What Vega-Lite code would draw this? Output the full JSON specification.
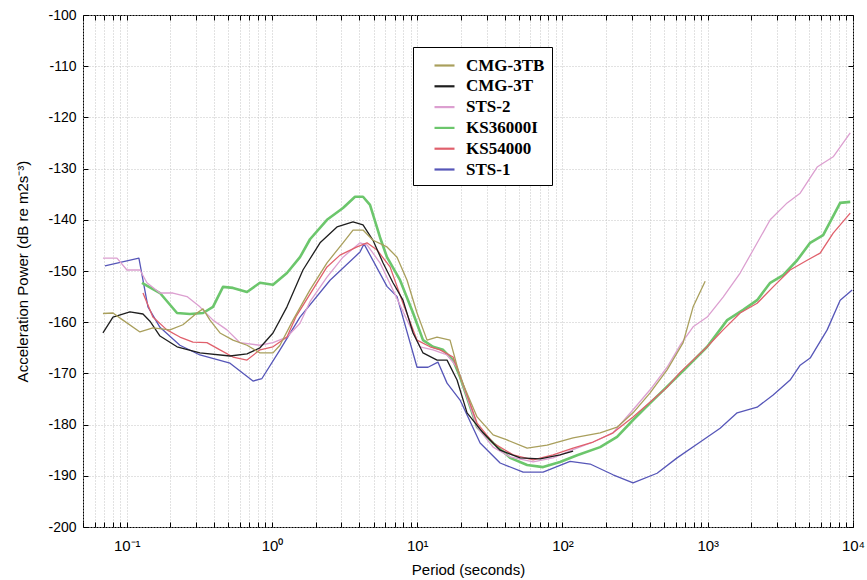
{
"$schema": "https://vega.github.io/schema/vega-lite/v6.json",
"width": 770, "height": 512,
"autosize": {"type": "none"},
"padding": {"left": 83, "top": 15, "right": 14, "bottom": 53},
"background": "white",
"config": {"view": {"stroke": "black", "strokeWidth": 1}, "font": "Liberation Sans", "axis": {"labelColor": "black", "titleColor": "black", "labelFont": "Liberation Sans", "titleFont": "Liberation Sans"}},
"datasets": {
"curves": [
{"s":"STS-1","p":0.0708,"v":-149.0},{"s":"STS-1","p":0.1213,"v":-147.5},{"s":"STS-1","p":0.140,"v":-157},{"s":"STS-1","p":0.1694,"v":-161},{"s":"STS-1","p":0.2323,"v":-164.5},{"s":"STS-1","p":0.319,"v":-166.4},{"s":"STS-1","p":0.514,"v":-168},{"s":"STS-1","p":0.74,"v":-171.5},{"s":"STS-1","p":0.853,"v":-171},{"s":"STS-1","p":1.135,"v":-165.4},{"s":"STS-1","p":1.559,"v":-159},{"s":"STS-1","p":2.51,"v":-151.8},{"s":"STS-1","p":4.036,"v":-146.3},{"s":"STS-1","p":4.3,"v":-144.7},{"s":"STS-1","p":6.19,"v":-153},{"s":"STS-1","p":7.26,"v":-155},{"s":"STS-1","p":9.97,"v":-168.8},{"s":"STS-1","p":11.86,"v":-168.8},{"s":"STS-1","p":13.9,"v":-167.8},{"s":"STS-1","p":16.04,"v":-171.9},{"s":"STS-1","p":19.72,"v":-175.2},{"s":"STS-1","p":27.1,"v":-183.6},{"s":"STS-1","p":37.2,"v":-187.5},{"s":"STS-1","p":53.6,"v":-189.3},{"s":"STS-1","p":73.5,"v":-189.3},{"s":"STS-1","p":112.8,"v":-187.2},{"s":"STS-1","p":155,"v":-187.7},{"s":"STS-1","p":222.9,"v":-189.8},{"s":"STS-1","p":306,"v":-191.4},{"s":"STS-1","p":448,"v":-189.5},{"s":"STS-1","p":615,"v":-186.5},{"s":"STS-1","p":887,"v":-183.4},{"s":"STS-1","p":1217,"v":-180.7},{"s":"STS-1","p":1594,"v":-177.7},{"s":"STS-1","p":2188,"v":-176.6},{"s":"STS-1","p":2820,"v":-174.2},{"s":"STS-1","p":3690,"v":-171.3},{"s":"STS-1","p":4327,"v":-168.4},{"s":"STS-1","p":5070,"v":-167},{"s":"STS-1","p":6640,"v":-161.5},{"s":"STS-1","p":8160,"v":-155.7},{"s":"STS-1","p":9870,"v":-153.7},

{"s":"KS36000I","p":0.1273,"v":-152.3},{"s":"KS36000I","p":0.1694,"v":-154.3},{"s":"KS36000I","p":0.222,"v":-158.2},{"s":"KS36000I","p":0.2723,"v":-158.4},{"s":"KS36000I","p":0.335,"v":-158.2},{"s":"KS36000I","p":0.3926,"v":-157},{"s":"KS36000I","p":0.46,"v":-153.1},{"s":"KS36000I","p":0.5387,"v":-153.3},{"s":"KS36000I","p":0.673,"v":-154.1},{"s":"KS36000I","p":0.826,"v":-152.3},{"s":"KS36000I","p":1.016,"v":-152.7},{"s":"KS36000I","p":1.268,"v":-150.4},{"s":"KS36000I","p":1.559,"v":-147.3},{"s":"KS36000I","p":1.827,"v":-143.8},{"s":"KS36000I","p":2.392,"v":-140},{"s":"KS36000I","p":3.083,"v":-137.7},{"s":"KS36000I","p":3.73,"v":-135.5},{"s":"KS36000I","p":4.233,"v":-135.5},{"s":"KS36000I","p":4.73,"v":-137.1},{"s":"KS36000I","p":5.54,"v":-143.4},{"s":"KS36000I","p":6.19,"v":-147.3},{"s":"KS36000I","p":7.62,"v":-151.8},{"s":"KS36000I","p":9.36,"v":-158.2},{"s":"KS36000I","p":10.96,"v":-163.5},{"s":"KS36000I","p":12.84,"v":-164.8},{"s":"KS36000I","p":15.06,"v":-165.4},{"s":"KS36000I","p":17.64,"v":-167.4},{"s":"KS36000I","p":19.72,"v":-170.7},{"s":"KS36000I","p":25.82,"v":-180.5},{"s":"KS36000I","p":33.3,"v":-183.6},{"s":"KS36000I","p":43.6,"v":-186.5},{"s":"KS36000I","p":57.1,"v":-187.9},{"s":"KS36000I","p":73.5,"v":-188.3},{"s":"KS36000I","p":96.2,"v":-187.3},{"s":"KS36000I","p":126.1,"v":-186},{"s":"KS36000I","p":181.6,"v":-184.4},{"s":"KS36000I","p":237.6,"v":-182.4},{"s":"KS36000I","p":306,"v":-179.1},{"s":"KS36000I","p":401,"v":-175.8},{"s":"KS36000I","p":677,"v":-169.5},{"s":"KS36000I","p":991,"v":-164.8},{"s":"KS36000I","p":1361,"v":-159.6},{"s":"KS36000I","p":1753,"v":-157.6},{"s":"KS36000I","p":2188,"v":-155.7},{"s":"KS36000I","p":2691,"v":-152.3},{"s":"KS36000I","p":3305,"v":-150.8},{"s":"KS36000I","p":4127,"v":-147.9},{"s":"KS36000I","p":5070,"v":-144.5},{"s":"KS36000I","p":6232,"v":-143},{"s":"KS36000I","p":8160,"v":-136.7},{"s":"KS36000I","p":9570,"v":-136.5},

{"s":"STS-2","p":0.0686,"v":-147.5},{"s":"STS-2","p":0.0857,"v":-147.5},{"s":"STS-2","p":0.1003,"v":-149.8},{"s":"STS-2","p":0.1233,"v":-149.8},{"s":"STS-2","p":0.1378,"v":-152.3},{"s":"STS-2","p":0.1694,"v":-154.3},{"s":"STS-2","p":0.208,"v":-154.3},{"s":"STS-2","p":0.26,"v":-155},{"s":"STS-2","p":0.319,"v":-157},{"s":"STS-2","p":0.3926,"v":-159.6},{"s":"STS-2","p":0.4898,"v":-161.5},{"s":"STS-2","p":0.6023,"v":-164},{"s":"STS-2","p":0.826,"v":-164.5},{"s":"STS-2","p":1.016,"v":-164},{"s":"STS-2","p":1.268,"v":-162.9},{"s":"STS-2","p":1.559,"v":-160.2},{"s":"STS-2","p":1.827,"v":-156},{"s":"STS-2","p":2.392,"v":-151.2},{"s":"STS-2","p":3.083,"v":-147.3},{"s":"STS-2","p":4.036,"v":-144.5},{"s":"STS-2","p":4.51,"v":-144.9},{"s":"STS-2","p":5.54,"v":-148.4},{"s":"STS-2","p":6.81,"v":-153.7},{"s":"STS-2","p":8.51,"v":-159.6},{"s":"STS-2","p":10.45,"v":-164.8},{"s":"STS-2","p":12.84,"v":-165.4},{"s":"STS-2","p":16.04,"v":-166.4},{"s":"STS-2","p":18.8,"v":-168.8},{"s":"STS-2","p":25.82,"v":-180.5},{"s":"STS-2","p":33.3,"v":-184.4},{"s":"STS-2","p":43.6,"v":-186.3},{"s":"STS-2","p":62.8,"v":-187.3},{"s":"STS-2","p":86.1,"v":-186.5},{"s":"STS-2","p":118.3,"v":-184.9},{"s":"STS-2","p":162.5,"v":-183.4},{"s":"STS-2","p":222.9,"v":-181.6},{"s":"STS-2","p":306,"v":-177.1},{"s":"STS-2","p":401,"v":-173.2},{"s":"STS-2","p":525,"v":-168.8},{"s":"STS-2","p":645,"v":-164.5},{"s":"STS-2","p":793,"v":-160.9},{"s":"STS-2","p":991,"v":-159},{"s":"STS-2","p":1276,"v":-155.1},{"s":"STS-2","p":1671,"v":-150.4},{"s":"STS-2","p":2054,"v":-145.9},{"s":"STS-2","p":2691,"v":-140},{"s":"STS-2","p":3521,"v":-136.7},{"s":"STS-2","p":4327,"v":-134.8},{"s":"STS-2","p":5665,"v":-129.7},{"s":"STS-2","p":7305,"v":-127.7},{"s":"STS-2","p":9570,"v":-123},

{"s":"KS54000","p":0.1294,"v":-154.3},{"s":"KS54000","p":0.1514,"v":-159},{"s":"KS54000","p":0.189,"v":-161.5},{"s":"KS54000","p":0.2323,"v":-162.9},{"s":"KS54000","p":0.2857,"v":-163.9},{"s":"KS54000","p":0.3566,"v":-164},{"s":"KS54000","p":0.4385,"v":-165.4},{"s":"KS54000","p":0.5387,"v":-166.8},{"s":"KS54000","p":0.673,"v":-167.4},{"s":"KS54000","p":0.826,"v":-165.4},{"s":"KS54000","p":1.016,"v":-164.8},{"s":"KS54000","p":1.268,"v":-162.9},{"s":"KS54000","p":1.47,"v":-158.8},{"s":"KS54000","p":1.827,"v":-154.5},{"s":"KS54000","p":2.392,"v":-149.2},{"s":"KS54000","p":2.94,"v":-146.9},{"s":"KS54000","p":3.85,"v":-145.3},{"s":"KS54000","p":4.51,"v":-144.5},{"s":"KS54000","p":5.29,"v":-145.9},{"s":"KS54000","p":6.5,"v":-149.2},{"s":"KS54000","p":7.98,"v":-156.3},{"s":"KS54000","p":9.97,"v":-163.5},{"s":"KS54000","p":12.25,"v":-164.8},{"s":"KS54000","p":14.35,"v":-165.4},{"s":"KS54000","p":17.64,"v":-166.8},{"s":"KS54000","p":19.72,"v":-170.5},{"s":"KS54000","p":25.82,"v":-179.7},{"s":"KS54000","p":33.3,"v":-183.6},{"s":"KS54000","p":45.7,"v":-185.9},{"s":"KS54000","p":62.8,"v":-186.9},{"s":"KS54000","p":86.1,"v":-185.9},{"s":"KS54000","p":118.3,"v":-184.6},{"s":"KS54000","p":162.5,"v":-183.4},{"s":"KS54000","p":222.9,"v":-181.6},{"s":"KS54000","p":306,"v":-178.5},{"s":"KS54000","p":525,"v":-172.7},{"s":"KS54000","p":645,"v":-169.8},{"s":"KS54000","p":991,"v":-164.8},{"s":"KS54000","p":1276,"v":-161.5},{"s":"KS54000","p":1671,"v":-158.2},{"s":"KS54000","p":2188,"v":-156.3},{"s":"KS54000","p":2820,"v":-153.1},{"s":"KS54000","p":3690,"v":-149.8},{"s":"KS54000","p":4834,"v":-147.9},{"s":"KS54000","p":5940,"v":-146.5},{"s":"KS54000","p":7305,"v":-142.6},{"s":"KS54000","p":9570,"v":-138.7},

{"s":"CMG-3T","p":0.0686,"v":-162.1},{"s":"CMG-3T","p":0.0804,"v":-159},{"s":"CMG-3T","p":0.1052,"v":-158},{"s":"CMG-3T","p":0.1294,"v":-158.4},{"s":"CMG-3T","p":0.1445,"v":-159.8},{"s":"CMG-3T","p":0.1694,"v":-162.7},{"s":"CMG-3T","p":0.222,"v":-164.8},{"s":"CMG-3T","p":0.319,"v":-166},{"s":"CMG-3T","p":0.514,"v":-166.6},{"s":"CMG-3T","p":0.673,"v":-166.2},{"s":"CMG-3T","p":0.826,"v":-165},{"s":"CMG-3T","p":1.016,"v":-162.1},{"s":"CMG-3T","p":1.268,"v":-157},{"s":"CMG-3T","p":1.634,"v":-149.8},{"s":"CMG-3T","p":2.142,"v":-144.5},{"s":"CMG-3T","p":2.803,"v":-141.4},{"s":"CMG-3T","p":3.612,"v":-140.4},{"s":"CMG-3T","p":4.233,"v":-141},{"s":"CMG-3T","p":4.96,"v":-144},{"s":"CMG-3T","p":5.81,"v":-148.4},{"s":"CMG-3T","p":6.81,"v":-152.3},{"s":"CMG-3T","p":7.98,"v":-155.7},{"s":"CMG-3T","p":9.36,"v":-162.1},{"s":"CMG-3T","p":10.96,"v":-166},{"s":"CMG-3T","p":13.69,"v":-167.4},{"s":"CMG-3T","p":16.04,"v":-167.4},{"s":"CMG-3T","p":18.8,"v":-171.3},{"s":"CMG-3T","p":22.03,"v":-177.7},{"s":"CMG-3T","p":28.4,"v":-181.6},{"s":"CMG-3T","p":37.2,"v":-185},{"s":"CMG-3T","p":51.1,"v":-186.5},{"s":"CMG-3T","p":70.1,"v":-186.7},{"s":"CMG-3T","p":96.2,"v":-185.9},{"s":"CMG-3T","p":118.3,"v":-185.2},

{"s":"CMG-3TB","p":0.0686,"v":-158.3},{"s":"CMG-3TB","p":0.0804,"v":-158.2},{"s":"CMG-3TB","p":0.0942,"v":-159.6},{"s":"CMG-3TB","p":0.1233,"v":-161.9},{"s":"CMG-3TB","p":0.1514,"v":-161.1},{"s":"CMG-3TB","p":0.1985,"v":-161.5},{"s":"CMG-3TB","p":0.2437,"v":-160.5},{"s":"CMG-3TB","p":0.3043,"v":-158.2},{"s":"CMG-3TB","p":0.335,"v":-157.4},{"s":"CMG-3TB","p":0.3742,"v":-159.6},{"s":"CMG-3TB","p":0.4385,"v":-162.1},{"s":"CMG-3TB","p":0.5387,"v":-163.5},{"s":"CMG-3TB","p":0.673,"v":-164.5},{"s":"CMG-3TB","p":0.826,"v":-166},{"s":"CMG-3TB","p":1.016,"v":-166},{"s":"CMG-3TB","p":1.135,"v":-164.5},{"s":"CMG-3TB","p":1.395,"v":-159.6},{"s":"CMG-3TB","p":1.827,"v":-153.7},{"s":"CMG-3TB","p":2.392,"v":-148.4},{"s":"CMG-3TB","p":3.083,"v":-144.5},{"s":"CMG-3TB","p":3.612,"v":-142},{"s":"CMG-3TB","p":4.233,"v":-142},{"s":"CMG-3TB","p":4.96,"v":-144},{"s":"CMG-3TB","p":6.19,"v":-145.3},{"s":"CMG-3TB","p":7.26,"v":-147.3},{"s":"CMG-3TB","p":8.51,"v":-151.8},{"s":"CMG-3TB","p":9.97,"v":-158.2},{"s":"CMG-3TB","p":11.68,"v":-163.5},{"s":"CMG-3TB","p":13.69,"v":-162.9},{"s":"CMG-3TB","p":16.82,"v":-163.5},{"s":"CMG-3TB","p":19.72,"v":-170.7},{"s":"CMG-3TB","p":25.82,"v":-178.5},{"s":"CMG-3TB","p":33.3,"v":-182},{"s":"CMG-3TB","p":41.5,"v":-183},{"s":"CMG-3TB","p":57.1,"v":-184.6},{"s":"CMG-3TB","p":78.3,"v":-184},{"s":"CMG-3TB","p":118.3,"v":-182.6},{"s":"CMG-3TB","p":181.6,"v":-181.6},{"s":"CMG-3TB","p":237.6,"v":-180.5},{"s":"CMG-3TB","p":306,"v":-177.7},{"s":"CMG-3TB","p":401,"v":-173.8},{"s":"CMG-3TB","p":525,"v":-169.3},{"s":"CMG-3TB","p":677,"v":-164},{"s":"CMG-3TB","p":793,"v":-157},{"s":"CMG-3TB","p":960,"v":-152}
]
},
"data": {"name": "curves"},
"layer": [
{
"mark": {"type": "line", "strokeJoin": "round", "clip": true},
"encoding": {
"x": {"field": "p", "type": "quantitative",
 "scale": {"type": "log", "domain": [0.05, 10000], "nice": false},
 "axis": {"values": [0.05,0.06,0.07,0.08,0.09,0.1,0.2,0.3,0.4,0.5,0.6,0.7,0.8,0.9,1,2,3,4,5,6,7,8,9,10,20,30,40,50,60,70,80,90,100,200,300,400,500,600,700,800,900,1000,2000,3000,4000,5000,6000,7000,8000,9000,10000],
  "labelExpr": "datum.value==0.1?'10⁻¹':datum.value==1?'10⁰':datum.value==10?'10¹':datum.value==100?'10²':datum.value==1000?'10³':datum.value==10000?'10⁴':''",
  "labelFlush": false, "labelOverlap": false, "labelFontSize": 15, "labelPadding": 16,
  "grid": true, "gridDash": [1, 2], "gridColor": "#c4c4c4", "gridWidth": 1,
  "domain": false, "tickSize": -5, "tickColor": "black",
  "title": "Period (seconds)", "titleFontSize": 15, "titleFontWeight": "normal", "titlePadding": 9}},
"y": {"field": "v", "type": "quantitative",
 "scale": {"domain": [-200, -100], "nice": false},
 "axis": {"values": [-200,-190,-180,-170,-160,-150,-140,-130,-120,-110,-100],
  "labelExpr": "'-' + abs(datum.value)",
  "labelFontSize": 14, "labelPadding": 12, "grid": true, "gridDash": [1, 2], "gridColor": "#c4c4c4",
  "domain": false, "tickSize": -5, "tickColor": "black",
  "title": "Acceleration Power (dB re m2s⁻³)", "titleFontSize": 15, "titleFontWeight": "normal", "titlePadding": 17}},
"color": {"field": "s", "type": "nominal",
 "scale": {"domain": ["CMG-3TB","CMG-3T","STS-2","KS36000I","KS54000","STS-1"],
  "range": ["#a99f5c","#1e1e1e","#dc9fd0","#6cc66c","#e0606c","#5656b8"]},
 "legend": {"orient": "none", "legendX": 330, "legendY": 32, "title": null,
  "strokeColor": "black", "fillColor": "white", "padding": 7, "symbolOffset": 13,
  "symbolType": "stroke", "symbolSize": 400, "symbolStrokeWidth": 2.2,
  "labelFont": "Liberation Serif", "labelFontWeight": "bold", "labelFontSize": 17,
  "labelColor": "black", "labelOffset": 10, "rowPadding": 0.8}},
"strokeWidth": {"condition": {"test": "datum.s === 'KS36000I'", "value": 2.6}, "value": 1.3}
}
},
{
"mark": {"type": "line", "opacity": 0},
"encoding": {
"x": {"field": "p", "type": "quantitative",
 "axis": {"orient": "top", "values": [0.05,0.06,0.07,0.08,0.09,0.1,0.2,0.3,0.4,0.5,0.6,0.7,0.8,0.9,1,2,3,4,5,6,7,8,9,10,20,30,40,50,60,70,80,90,100,200,300,400,500,600,700,800,900,1000,2000,3000,4000,5000,6000,7000,8000,9000,10000],
  "labels": false, "grid": false, "domain": false, "tickSize": -5, "tickColor": "black", "title": null}},
"y": {"field": "v", "type": "quantitative",
 "axis": {"orient": "right", "values": [-200,-190,-180,-170,-160,-150,-140,-130,-120,-110,-100],
  "labels": false, "grid": false, "domain": false, "tickSize": -5, "tickColor": "black", "title": null}},
"detail": {"field": "s", "type": "nominal"}
}
}
],
"resolve": {"axis": {"x": "independent", "y": "independent"}}
}
